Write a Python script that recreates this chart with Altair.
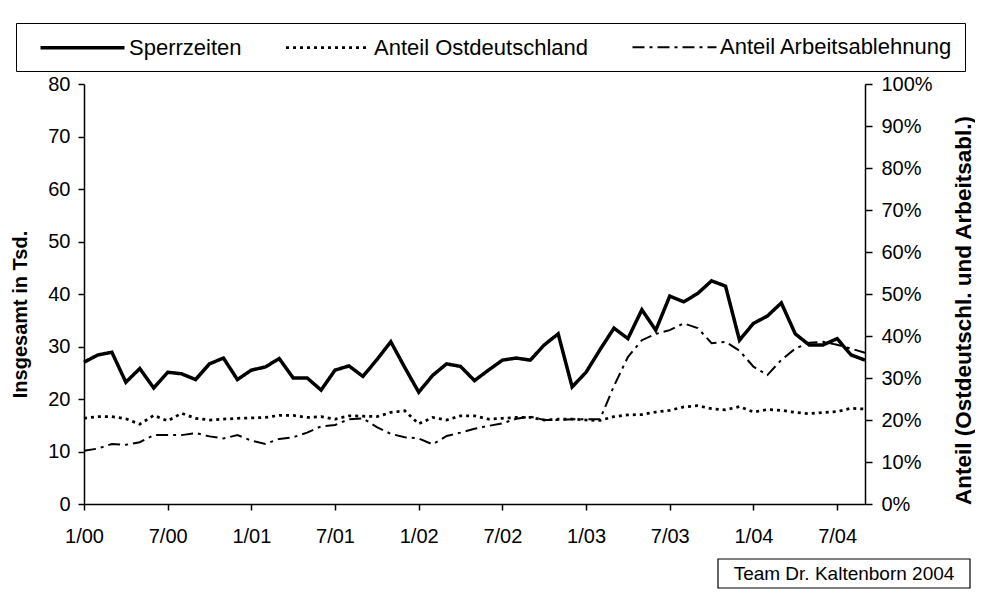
import altair as alt
import pandas as pd

# ---------------- data ----------------
tick_labels = ["1/00", "7/00", "1/01", "7/01", "1/02", "7/02", "1/03", "7/03", "1/04", "7/04"]
series_names = ["Sperrzeiten", "Anteil Ostdeutschland", "Anteil Arbeitsablehnung"]

# monthly index 0 = 1/00 ... 56 = 9/04
sperrzeiten = [27.0, 28.4, 28.9, 23.2, 25.8, 22.1, 25.1, 24.8, 23.7, 26.7,
               27.8, 23.7, 25.5, 26.1, 27.7, 24.0, 24.0, 21.7, 25.5, 26.3,
               24.3, 27.5, 30.9, 26.0, 21.3, 24.5, 26.7, 26.2, 23.5, 25.5,
               27.4, 27.8, 27.4, 30.3, 32.4, 22.3, 25.1, 29.4, 33.5, 31.5,
               37.0, 33.1, 39.6, 38.5, 40.1, 42.5, 41.5, 31.2, 34.4, 35.8,
               38.3, 32.4, 30.3, 30.3, 31.5, 28.4, 27.4]

anteil_ost = [20.4, 20.8, 20.8, 20.3, 19.0, 21.1, 19.8, 21.6, 20.4, 20.0,
              20.2, 20.4, 20.5, 20.6, 21.1, 21.1, 20.6, 20.8, 20.2, 21.0,
              20.9, 20.8, 21.8, 22.2, 19.1, 20.6, 20.0, 21.0, 21.0, 20.2,
              20.4, 20.6, 20.6, 20.0, 20.2, 20.2, 20.0, 19.9, 20.8, 21.2,
              21.3, 21.9, 22.3, 23.1, 23.4, 22.7, 22.4, 23.2, 21.9, 22.5,
              22.3, 21.8, 21.5, 21.8, 22.0, 22.8, 22.6]

anteil_arb = [12.7, 13.2, 14.3, 14.1, 14.7, 16.4, 16.4, 16.4, 16.9, 16.1,
              15.6, 16.4, 15.1, 14.3, 15.5, 15.9, 17.0, 18.5, 18.8, 20.2,
              20.4, 18.3, 16.7, 15.9, 15.6, 14.2, 16.2, 17.0, 17.9, 18.6,
              19.2, 20.3, 20.8, 20.0, 20.0, 20.2, 20.2, 20.2, 28.1, 35.0,
              39.0, 40.5, 41.4, 43.0, 41.9, 38.3, 38.6, 36.5, 32.7, 30.7,
              34.3, 37.0, 38.4, 38.6, 37.9, 37.0, 36.0]

months = list(range(len(sperrzeiten)))

df_left = pd.DataFrame({"m": months, "v": sperrzeiten, "s": series_names[0]})
df_right = pd.concat([
    pd.DataFrame({"m": months, "v": [p / 100 for p in anteil_ost], "s": series_names[1]}),
    pd.DataFrame({"m": months, "v": [p / 100 for p in anteil_arb], "s": series_names[2]}),
], ignore_index=True)

FONT = "Liberation Sans"
label_expr = "[" + ",".join("'%s'" % t for t in tick_labels) + "][datum.value / 6]"

x_enc = alt.X("m:Q",
              scale=alt.Scale(domain=[0, 56], nice=False, zero=False),
              axis=alt.Axis(values=list(range(0, 55, 6)), labelExpr=label_expr,
                            title=None, grid=False, tickSize=6, labelPadding=16,
                            labelFontSize=20, labelColor="black", labelFont=FONT,
                            domainColor="black", domainWidth=1.5, tickColor="black",
                            tickWidth=1.5, labelFlush=False, labelOverlap=False))

dash_scale = alt.Scale(domain=series_names, range=[[1, 0], [3, 4], [12, 5, 3, 5]])
width_scale = alt.Scale(domain=series_names, range=[3.5, 2, 2])

# legend symbol: a one-sided horizontal line (custom path, scaled by sqrt(size)/2)
legend = alt.Legend(title=None, orient="none", legendX=-68, legendY=-61,
                    direction="horizontal", symbolType="M0,0H8", symbolSize=441,
                    symbolStrokeColor="black", symbolFillColor="transparent",
                    labelFontSize=22, labelFont=FONT,
                    labelColor="black", labelOffset=76, labelLimit=500,
                    columnPadding=32, padding=12, strokeColor="black",
                    fillColor="white", symbolStrokeWidth=2)

left = alt.Chart(df_left).mark_line(color="black").encode(
    x=x_enc,
    y=alt.Y("v:Q", scale=alt.Scale(domain=[0, 80], nice=False),
            axis=alt.Axis(orient="left", values=list(range(0, 81, 10)),
                          title="Insgesamt in Tsd.", titleFontSize=20,
                          titleFont=FONT, titleFontWeight="bold", titleColor="black",
                          titleAngle=270, titleBaseline="middle", titleAlign="center",
                          titleX=-64, titleY=230,
                          grid=False, tickSize=6, labelPadding=8,
                          labelFontSize=20, labelFont=FONT, labelColor="black",
                          domainColor="black", domainWidth=1.5, tickColor="black",
                          tickWidth=1.5)),
    strokeDash=alt.StrokeDash("s:N", scale=dash_scale, legend=legend),
    strokeWidth=alt.StrokeWidth("s:N", scale=width_scale, legend=legend),
)

right = alt.Chart(df_right).mark_line(color="black").encode(
    x=x_enc,
    y=alt.Y("v:Q", scale=alt.Scale(domain=[0, 1], nice=False),
            axis=alt.Axis(orient="right", values=[i / 10 for i in range(11)],
                          format=".0%", title="Anteil (Ostdeutschl. und Arbeitsabl.)",
                          titleFontSize=22.5, titleFont=FONT, titleFontWeight="bold",
                          titleColor="black", titleAngle=270, titleBaseline="middle",
                          titleAlign="center", titleX=98, titleY=226,
                          grid=False, tickSize=7, labelPadding=9,
                          labelFontSize=20, labelFont=FONT, labelColor="black",
                          domainColor="black", domainWidth=1.5, tickColor="black",
                          tickWidth=1.5)),
    strokeDash=alt.StrokeDash("s:N", scale=dash_scale, legend=legend),
    strokeWidth=alt.StrokeWidth("s:N", scale=width_scale, legend=legend),
)

# footnote box (annotation, placed outside the plot area)
note_df = pd.DataFrame({"t": ["Team Dr. Kaltenborn 2004"]})
note_box = alt.Chart(note_df).mark_rect(fill="white", stroke="black", strokeWidth=1.2).encode(
    x=alt.value(634), x2=alt.value(886), y=alt.value(475), y2=alt.value(504))
note_text = alt.Chart(note_df).mark_text(font=FONT, fontSize=19, color="black",
                                         align="center", baseline="middle").encode(
    x=alt.value(760), y=alt.value(490), text="t:N")

chart = alt.layer(left, right, note_box, note_text).resolve_scale(
    y="independent"
).properties(
    width=781, height=420,
    padding={"left": 76, "top": 76, "right": 110, "bottom": 85},
    autosize=alt.AutoSizeParams(type="none"),
    background="white",
).configure_view(stroke=None)

chart.save("out.html", embed_options={"renderer": "svg", "actions": False})
